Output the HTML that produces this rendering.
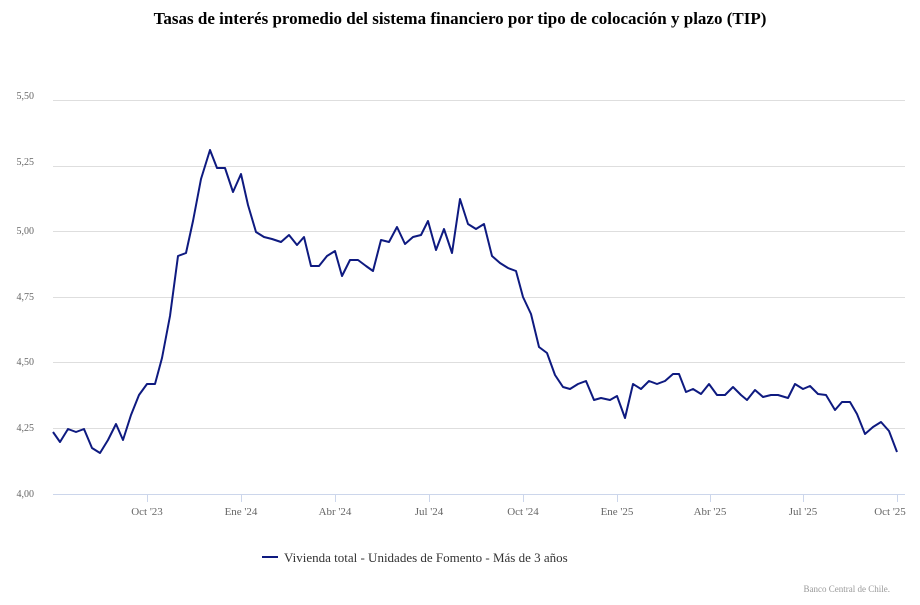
<!DOCTYPE html>
<html><head><meta charset="utf-8"><style>
body{margin:0;background:#fff;width:920px;height:600px;overflow:hidden;font-family:"Liberation Serif",serif}
</style></head><body>
<svg width="920" height="600" xmlns="http://www.w3.org/2000/svg" font-family="Liberation Serif, serif">
<text x="460" y="24" text-anchor="middle" font-size="17" font-weight="bold" fill="#000">Tasas de interés promedio del sistema financiero por tipo de colocación y plazo (TIP)</text>
<g stroke="#dedede" stroke-width="1">
<line x1="53" x2="905" y1="100.5" y2="100.5"/>
<line x1="53" x2="905" y1="166.5" y2="166.5"/>
<line x1="53" x2="905" y1="231.5" y2="231.5"/>
<line x1="53" x2="905" y1="297.5" y2="297.5"/>
<line x1="53" x2="905" y1="362.5" y2="362.5"/>
<line x1="53" x2="905" y1="428.5" y2="428.5"/>
</g>
<line x1="53" x2="905" y1="494.5" y2="494.5" stroke="#ccd6eb"/>
<g stroke="#ccd6eb"><line x1="147.5" x2="147.5" y1="494" y2="502"/><line x1="241.5" x2="241.5" y1="494" y2="502"/><line x1="335.5" x2="335.5" y1="494" y2="502"/><line x1="429.5" x2="429.5" y1="494" y2="502"/><line x1="523.5" x2="523.5" y1="494" y2="502"/><line x1="617.5" x2="617.5" y1="494" y2="502"/><line x1="710.5" x2="710.5" y1="494" y2="502"/><line x1="803.5" x2="803.5" y1="494" y2="502"/><line x1="897.5" x2="897.5" y1="494" y2="502"/></g>
<g font-size="10" fill="#666" text-anchor="end">
<text x="34" y="99">5,50</text><text x="34" y="165">5,25</text><text x="34" y="234">5,00</text><text x="34" y="300">4,75</text><text x="34" y="365">4,50</text><text x="34" y="431">4,25</text><text x="34" y="497">4,00</text>
</g>
<g font-size="11" fill="#666" text-anchor="middle">
<text x="147" y="515">Oct '23</text><text x="241" y="515">Ene '24</text><text x="335" y="515">Abr '24</text><text x="429" y="515">Jul '24</text><text x="523" y="515">Oct '24</text><text x="617" y="515">Ene '25</text><text x="710" y="515">Abr '25</text><text x="803" y="515">Jul '25</text><text x="890" y="515">Oct '25</text>
</g>
<polyline fill="none" stroke="#0e1a80" stroke-width="2" stroke-linejoin="round" points="53,432 60,442 68,429 76,432 84,429 92,448 100,453 108,440 116,424 123,440 131,415 139,395 147,384 155,384 162,358 170,316 178,256 186,253 193,221 201,179 210,150 217,168 225,168 233,192 241,174 248,205 256,232 264,237 272,239 281,242 289,235 297,245 304,237 311,266 319,266 327,256 335,251 342,276 350,260 358,260 366,266 373,271 381,240 389,242 397,227 405,244 413,237 421,235 428,221 436,250 444,229 452,253 460,199 468,224 476,229 484,224 492,256 500,263 508,268 516,271 523,297 531,314 539,347 547,353 555,375 563,387 570,389 578,384 586,381 594,400 601,398 610,400 617,396 625,418 633,384 641,389 649,381 657,384 665,381 673,374 679,374 686,392 693,389 701,394 709,384 717,395 725,395 733,387 741,395 747,400 755,390 763,397 771,395 778,395 788,398 795,384 803,389 810,386 818,394 826,395 835,410 842,402 850,402 857,414 865,434 873,427 881,422 889,431 897,452"/>
<line x1="262" x2="278" y1="557" y2="557" stroke="#0e1a80" stroke-width="2"/>
<text x="284" y="562" font-size="13" fill="#333">Vivienda total - Unidades de Fomento - Más de 3 años</text>
<text x="890" y="592" font-size="9" fill="#999" text-anchor="end">Banco Central de Chile.</text>
</svg>
</body></html>
